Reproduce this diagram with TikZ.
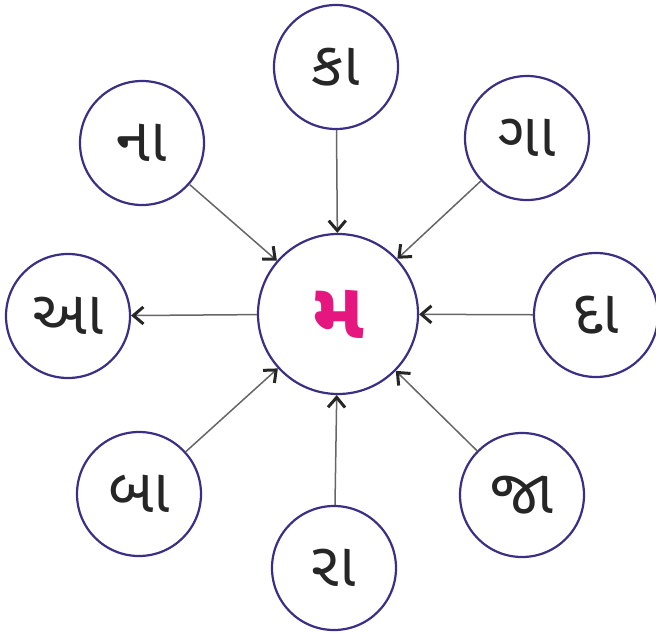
\documentclass[tikz,border=0pt]{standalone}
\usepackage{fontspec}
\newfontfamily\gujfont[Script=Gujarati]{Noto Sans Gujarati UI}
\usetikzlibrary{arrows.meta}
\definecolor{vadal}{HTML}{3A2F85}
\definecolor{gulabi}{HTML}{E5177E}
\tikzset{
	akshar/.style={circle,draw=vadal,line width=2.2pt,minimum size=124pt,inner sep=0pt,
		text=black!85,font=\gujfont\fontsize{62}{70}\selectfont},
	madhya/.style={akshar,minimum size=160pt,text=gulabi,
		font=\gujfont\bfseries\fontsize{80}{90}\selectfont},
	teer/.style={-{Straight Barb[length=10pt,width=17pt,line width=3pt,color=black!85]},
		draw=black!60,line width=1.5pt}
}
\begin{document}
\begin{tikzpicture}[x=1pt,y=-1pt]
	\useasboundingbox (0,0) rectangle (656,637);
	% Vẽ vòng tròn giữa
	\node[madhya] (ma) at (338,314) {મ};
	% Vẽ các vòng tròn ngoài
	\foreach \nm/\px/\py/\txt in {ka/336/67/કા, na/142/143/ના, ga/527/138/ગા, aa/68/316/આ,
		da/596/315/દા, ba/139/494/બા, ra/334/568/રા, ja/522/495/જા}
	\node[akshar] (\nm) at (\px,\py) {\txt};
	% Vẽ các mũi tên
	\foreach \nm in {ka,na,ga,da,ba,ra,ja}
	\draw[teer] (\nm) -- (ma);
	\draw[teer] (ma) -- (aa);
\end{tikzpicture}
\end{document}
